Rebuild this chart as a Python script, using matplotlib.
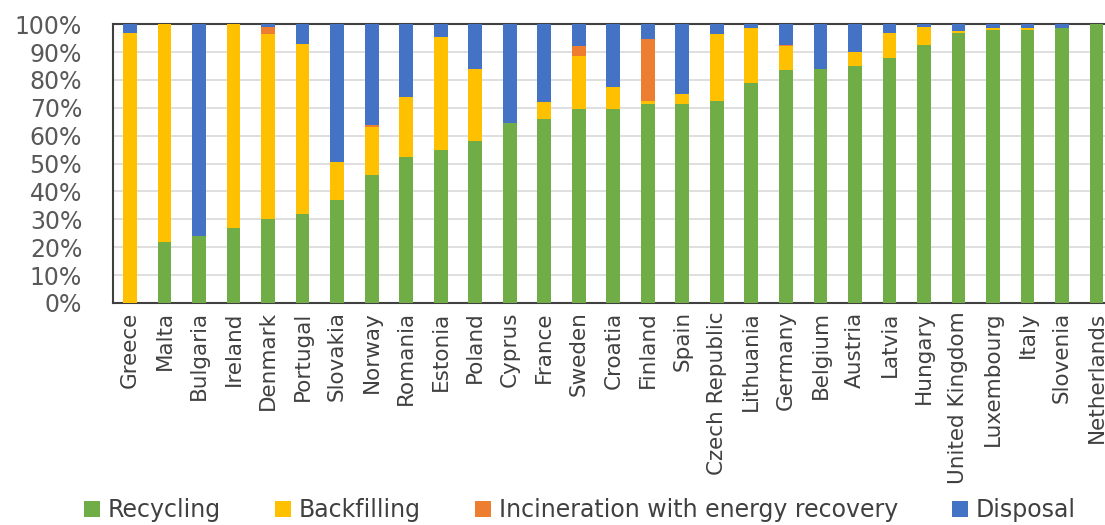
import numpy as np
import matplotlib.pyplot as plt
from matplotlib.ticker import PercentFormatter

countries = ['Greece', 'Malta', 'Bulgaria', 'Ireland', 'Denmark', 'Portugal',
             'Slovakia', 'Norway', 'Romania', 'Estonia', 'Poland', 'Cyprus',
             'France', 'Sweden', 'Croatia', 'Finland', 'Spain', 'Czech Republic',
             'Lithuania', 'Germany', 'Belgium', 'Austria', 'Latvia', 'Hungary',
             'United Kingdom', 'Luxembourg', 'Italy', 'Slovenia', 'Netherlands']

# shares in % of treated waste
recycling = [0, 22, 24, 27, 30, 32, 37, 46, 52.5, 55, 58, 64.5, 66, 69.5, 69.5,
             71.5, 71.5, 72.5, 79, 83.5, 84, 85, 88, 92.5, 97, 98, 98, 98.5, 100]
backfilling = [97, 78, 0, 73, 66.5, 61, 13.5, 17, 21.5, 40.5, 26, 0, 6, 19, 8,
               1, 3.5, 24, 19.5, 8.5, 0, 5, 9, 6.5, 0.5, 0.5, 0.5, 0, 0]
incineration = [0, 0, 0, 0, 2.5, 0, 0, 1, 0, 0, 0, 0, 0, 3.5, 0,
                22, 0, 0, 0, 0.5, 0, 0, 0, 0, 0, 0, 0, 0, 0]
disposal = [3, 0, 76, 0, 1, 7, 49.5, 36, 26, 4.5, 16, 35.5, 28, 8, 22.5,
            5.5, 25, 3.5, 1.5, 7.5, 16, 10, 3, 1, 2.5, 1.5, 1.5, 1.5, 0]

series = [('Recycling', recycling, '#70AD47'),
          ('Backfilling', backfilling, '#FFC000'),
          ('Incineration with energy recovery', incineration, '#ED7D31'),
          ('Disposal', disposal, '#4472C4')]

fig = plt.figure(figsize=(11.05, 5.25), dpi=100)
ax = fig.add_axes([0.102, 0.423, 0.906, 0.531])

x = np.arange(len(countries))
bottom = np.zeros(len(countries))
for name, vals, color in series:
    vals = np.array(vals, dtype=float)
    ax.bar(x, vals, 0.4, bottom=bottom, color=color, label=name, zorder=3)
    bottom += vals

ax.set_xlim(-0.5, len(countries) - 0.5)
ax.set_ylim(0, 100)
ax.set_yticks(np.arange(0, 101, 10))
ax.yaxis.set_major_formatter(PercentFormatter(decimals=0))
ax.grid(axis='y', color='#d9d9d9', linewidth=1.2, zorder=0)
for s in ax.spines.values():
    s.set_color('#404040')
    s.set_linewidth(1.5)

ax.set_xticks(x)
ax.set_xticklabels(countries, rotation=90, fontsize=15.5,
                   family=['Liberation Sans Narrow', 'DejaVu Sans'], color='#404040')
ax.tick_params(axis='x', length=0, pad=6)
ax.tick_params(axis='y', length=0, labelsize=17, labelcolor='#595959', pad=22)

fig.legend(loc='lower center', bbox_to_anchor=(0.525, -0.035), ncol=4, frameon=False,
           handlelength=0.65, handleheight=0.65, handletextpad=0.35, columnspacing=2.3,
           prop={'family': 'DejaVu Sans', 'size': 17}, labelcolor='#404040')

fig.savefig('out.png', dpi=100)
